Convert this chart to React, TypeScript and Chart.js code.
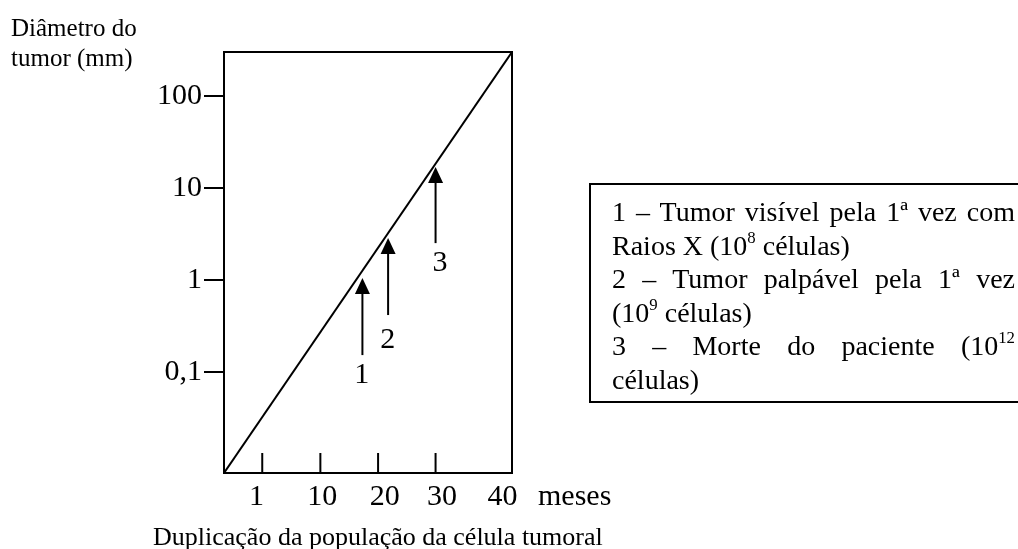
import React, { useEffect, useRef } from 'react';
import { Chart, registerables } from 'chart.js';

Chart.register(...registerables);

// ---- data ----
const yTickValues = [0.1, 1, 10, 100];
const yTickLabels = ['0,1', '1', '10', '100'];
const yMin = 0.0079;
const yMax = 304;

const xMin = 0;
const xMax = 5;
const xLabelPos = [0.565, 1.704, 2.791, 3.783, 4.835];
const xLabels = ['1', '10', '20', '30', '40'];
const xTickMarkPos = [0.664, 1.673, 2.675, 3.673];

const growthX = [0, 5];
const growthY = [0.0079, 304];

const arrowX = [2.403, 2.849, 3.673];
const arrowTipY = [1.05, 2.86, 17.0];
const arrowBaseY = [0.152, 0.415, 2.52];
const arrowLabels = ['1', '2', '3'];
const arrowLabelX = [2.391, 2.843, 3.748];
const arrowLabelY = [0.092, 0.221, 1.53];

const yTitleLines = ['Diâmetro do', 'tumor (mm)'];
const xUnit = 'meses';
const xTitle = 'Duplicação da população da célula tumoral';

// legend lines: [text, justified]; ^n marks a superscript
const legendLines: [string, boolean][] = [
  ['1 – Tumor visível pela 1ª vez com', true],
  ['Raios X (10^8 células)', false],
  ['2 – Tumor palpável pela 1ª vez', true],
  ['(10^9 células)', false],
  ['3 – Morte do paciente (10^12', true],
  ['células)', false],
];

const FONT = '"Liberation Serif", "Times New Roman", serif';

function renderLine(s: string) {
  const parts = s.split(/\^(\d+)/);
  return parts.map((p, i) =>
    i % 2 === 1 ? (
      <sup key={i} style={{ fontSize: '0.6em', lineHeight: 0, verticalAlign: '0.7em' }}>{p}</sup>
    ) : (
      <React.Fragment key={i}>{p}</React.Fragment>
    )
  );
}

const overlayPlugin = {
  id: 'overlay',
  afterDatasetsDraw(chart: any) {
    const { ctx, chartArea } = chart;
    const x = chart.scales.x;
    const y = chart.scales.y;
    ctx.save();
    ctx.strokeStyle = '#000';
    ctx.fillStyle = '#000';
    ctx.lineWidth = 2;
    ctx.strokeRect(chartArea.left, chartArea.top, chartArea.right - chartArea.left, chartArea.bottom - chartArea.top);
    // inward tick marks on the x axis
    xTickMarkPos.forEach((v) => {
      const px = x.getPixelForValue(v);
      ctx.beginPath();
      ctx.moveTo(px, chartArea.bottom);
      ctx.lineTo(px, chartArea.bottom - 20);
      ctx.stroke();
    });
    // arrows
    arrowX.forEach((v, i) => {
      const px = x.getPixelForValue(v);
      const tip = y.getPixelForValue(arrowTipY[i]);
      const base = y.getPixelForValue(arrowBaseY[i]);
      ctx.beginPath();
      ctx.moveTo(px, base);
      ctx.lineTo(px, tip + 10);
      ctx.stroke();
      ctx.beginPath();
      ctx.moveTo(px, tip);
      ctx.lineTo(px - 7.5, tip + 16);
      ctx.lineTo(px + 7.5, tip + 16);
      ctx.closePath();
      ctx.fill();
    });
    ctx.font = `30px ${FONT}`;
    ctx.textAlign = 'center';
    ctx.textBaseline = 'middle';
    arrowLabels.forEach((t, i) => {
      ctx.fillText(t, x.getPixelForValue(arrowLabelX[i]), y.getPixelForValue(arrowLabelY[i]));
    });
    ctx.restore();
  },
};

export default function App() {
  const canvasRef = useRef<HTMLCanvasElement | null>(null);

  useEffect(() => {
    if (!canvasRef.current) return;
    const chart = new Chart(canvasRef.current, {
      type: 'line',
      data: {
        datasets: [
          {
            data: growthX.map((v, i) => ({ x: v, y: growthY[i] })),
            borderColor: '#000',
            borderWidth: 2,
            pointRadius: 0,
            fill: false,
            tension: 0,
          },
        ],
      },
      options: {
        animation: false,
        responsive: false,
        maintainAspectRatio: false,
        layout: { padding: { left: 0, right: 506, top: 52, bottom: 0 } },
        plugins: {
          legend: { display: false },
          tooltip: { enabled: false },
          title: { display: false },
        },
        scales: {
          x: {
            type: 'linear',
            min: xMin,
            max: xMax,
            afterBuildTicks: (s: any) => {
              s.ticks = xLabelPos.map((v) => ({ value: v }));
            },
            afterFit: (s: any) => {
              s.height = 76;
            },
            grid: { display: false },
            border: { display: true, color: '#000', width: 2 },
            ticks: {
              autoSkip: false,
              maxRotation: 0,
              minRotation: 0,
              color: '#000',
              padding: -2,
              font: { size: 30, family: FONT },
              callback: (_v: any, i: number) => xLabels[i],
            },
          },
          y: {
            type: 'logarithmic',
            min: yMin,
            max: yMax,
            afterBuildTicks: (s: any) => {
              s.ticks = yTickValues.map((v) => ({ value: v }));
            },
            afterFit: (s: any) => {
              s.width = 224;
            },
            grid: {
              drawOnChartArea: false,
              drawTicks: true,
              tickLength: 20,
              color: '#000',
              lineWidth: 2,
            },
            border: { display: true, color: '#000', width: 2 },
            ticks: {
              color: '#000',
              padding: 2,
              font: { size: 30, family: FONT },
              callback: (_v: any, i: number) => yTickLabels[i],
            },
          },
        },
      },
      plugins: [overlayPlugin],
    } as any);
    return () => chart.destroy();
  }, []);

  return (
    <div
      style={{
        position: 'absolute',
        left: 0,
        top: 0,
        width: 1018,
        height: 549,
        overflow: 'hidden',
        background: '#fff',
        fontFamily: FONT,
        color: '#000',
      }}
    >
      <canvas
        ref={canvasRef}
        width={1018}
        height={549}
        style={{ position: 'absolute', left: 0, top: 0, display: 'block' }}
      />
      <div style={{ position: 'absolute', left: 11, top: 13, fontSize: 25, lineHeight: '30px', whiteSpace: 'nowrap' }}>
        {yTitleLines.map((l, i) => (
          <div key={i}>{l}</div>
        ))}
      </div>
      <div style={{ position: 'absolute', left: 538, top: 477, fontSize: 30, lineHeight: '36px', whiteSpace: 'nowrap' }}>
        {xUnit}
      </div>
      <div style={{ position: 'absolute', left: 153, top: 522, fontSize: 26, lineHeight: '30px', whiteSpace: 'nowrap' }}>
        {xTitle}
      </div>
      <div
        style={{
          position: 'absolute',
          left: 589,
          top: 183,
          width: 403,
          padding: '10px 15px 5px 21px',
          border: '2px solid #000',
          fontSize: 28,
          lineHeight: '33.5px',
        }}
      >
        {legendLines.map(([t, j], i) => (
          <div
            key={i}
            style={{
              textAlign: j ? 'justify' : 'left',
              textAlignLast: j ? 'justify' : 'left',
              whiteSpace: 'nowrap',
            } as any}
          >
            {renderLine(t)}
          </div>
        ))}
      </div>
    </div>
  );
}
